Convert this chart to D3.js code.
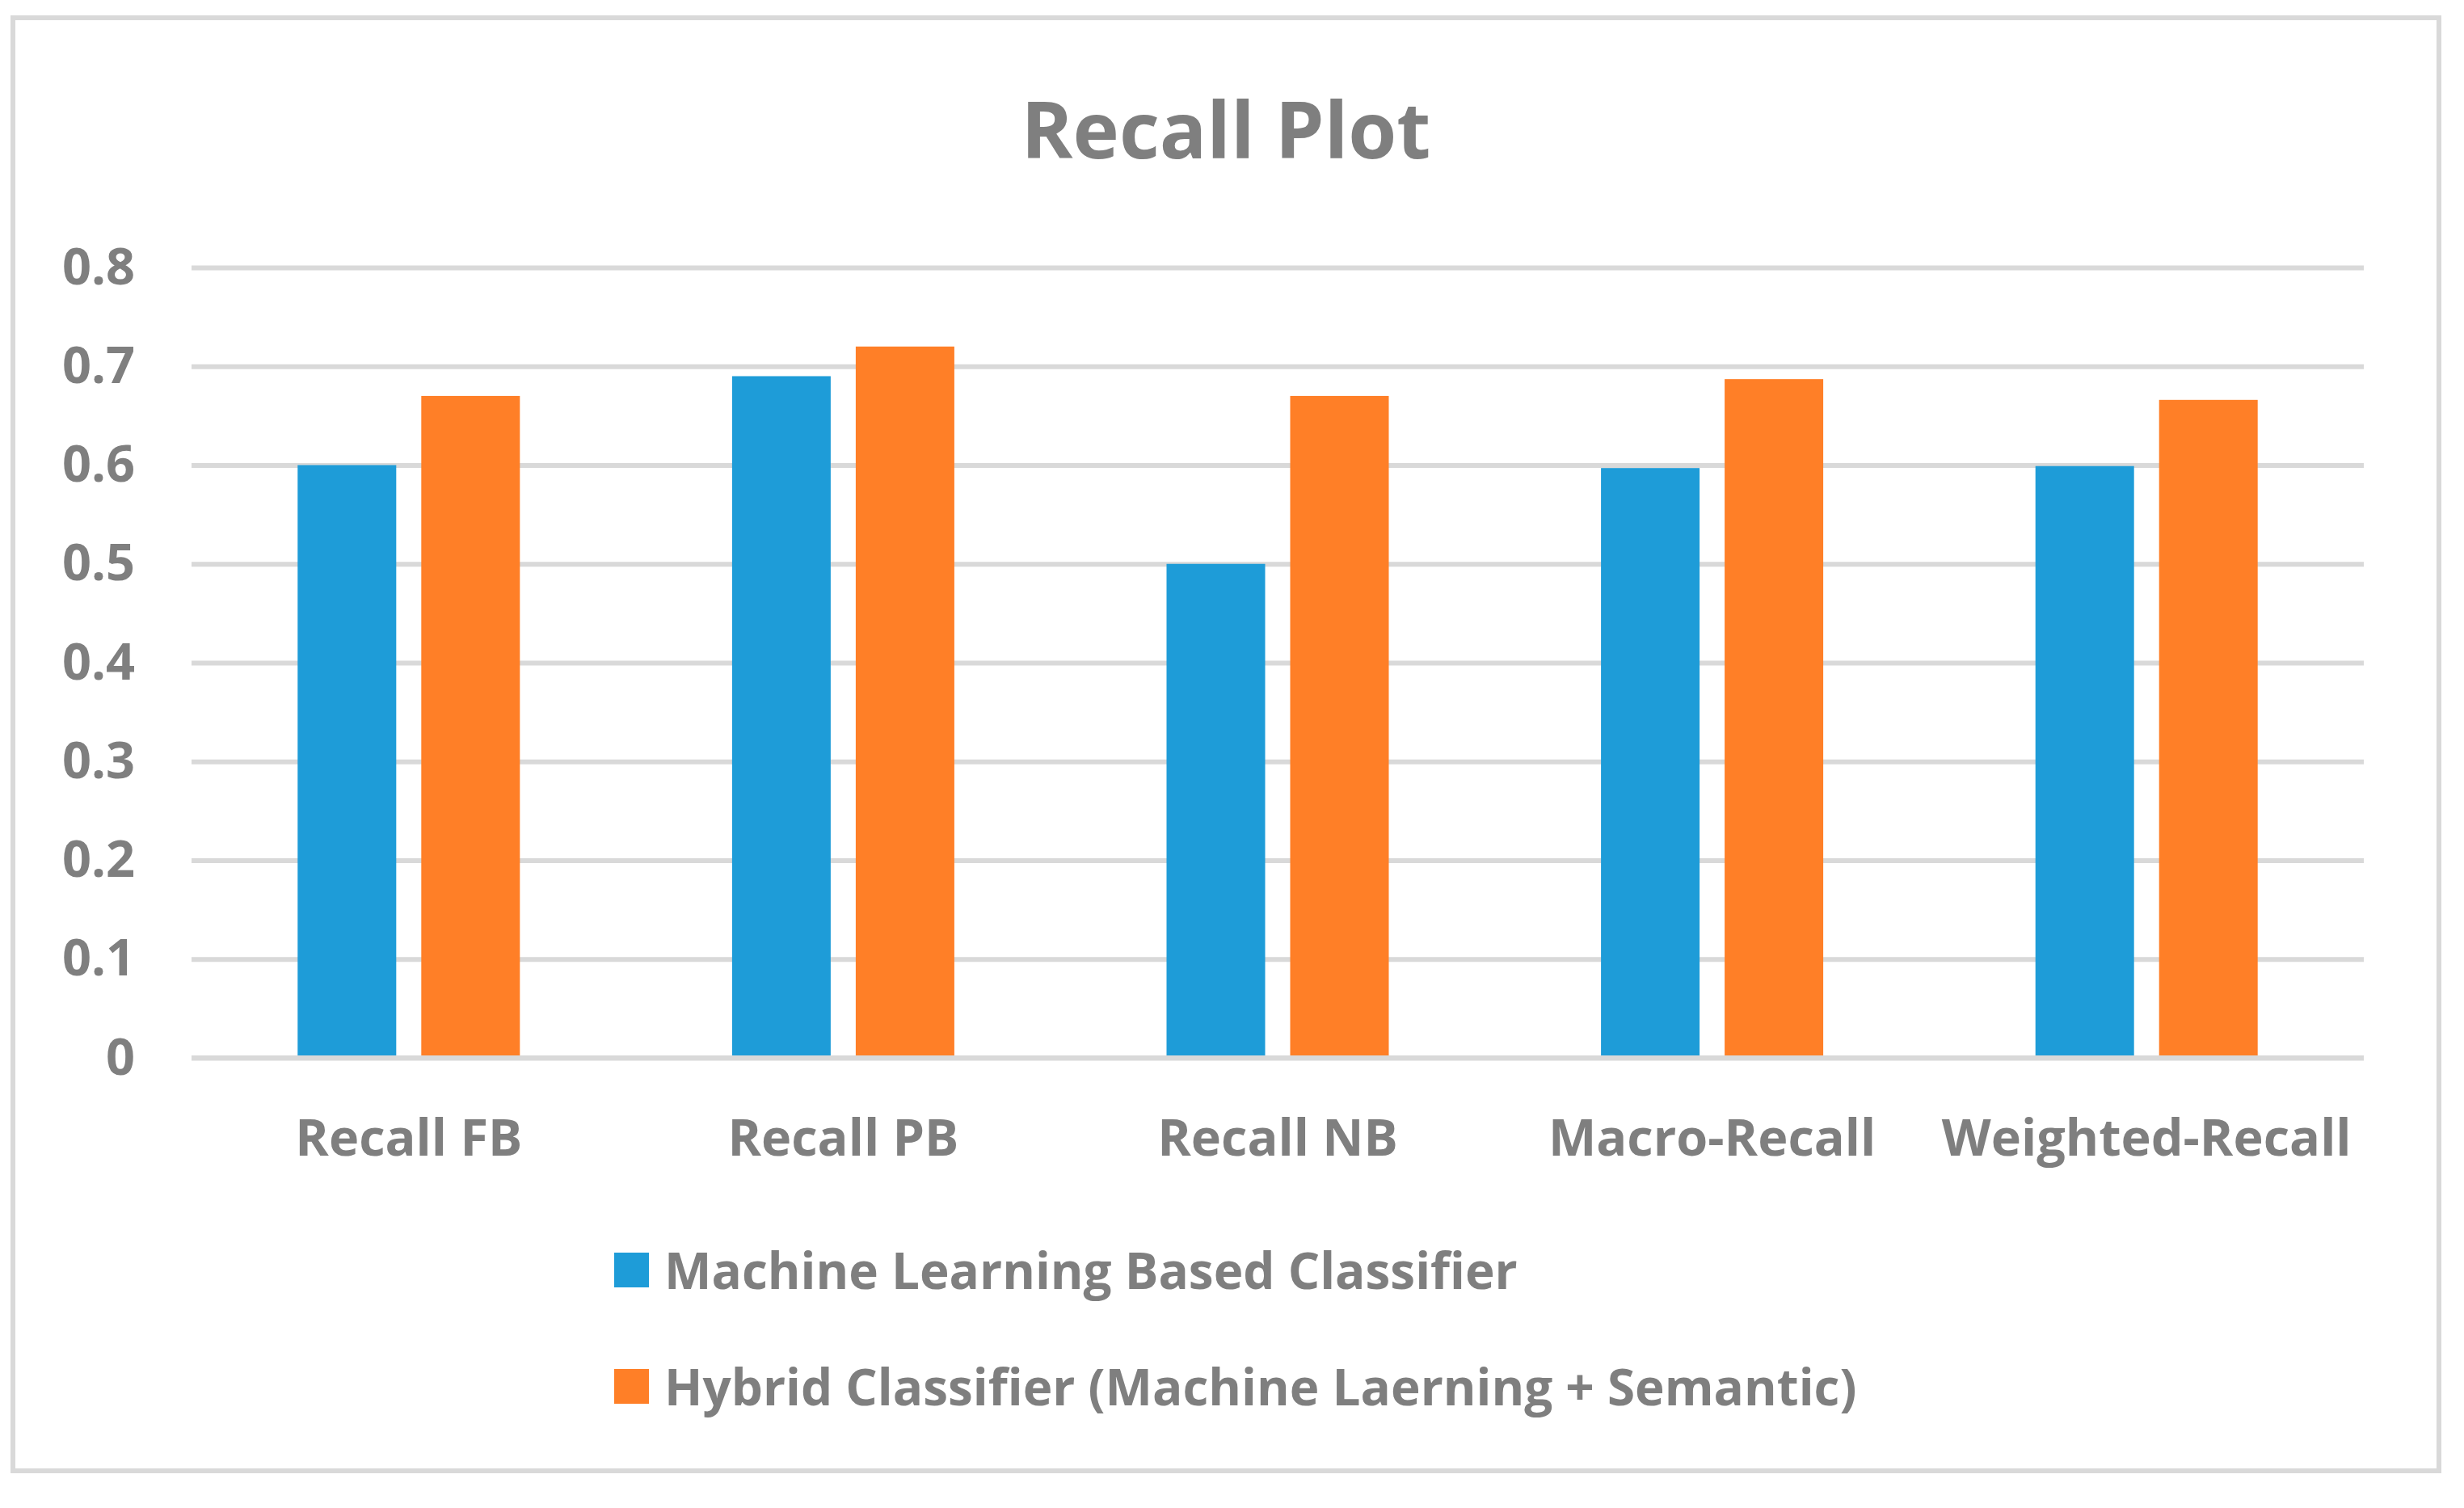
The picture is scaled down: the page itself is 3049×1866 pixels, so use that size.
<!DOCTYPE html>
<html>
<head>
<meta charset="utf-8">
<script src="https://cdn.jsdelivr.net/npm/d3@7/dist/d3.min.js"></script>
<style>
  html, body { margin: 0; padding: 0; background: #ffffff; }
  svg { display: block; }
</style>
</head>
<body>
<script>
// ---- data ----
const categories = ["Recall FB", "Recall PB", "Recall NB", "Macro-Recall", "Weighted-Recall"];
const seriesNames = ["Machine Learning Based Classifier", "Hybrid Classifier (Machine Laerning + Semantic)"];
const mlValues = [0.60, 0.69, 0.50, 0.597, 0.599];
const hybridValues = [0.67, 0.72, 0.67, 0.687, 0.666];
const yTicks = [0, 0.1, 0.2, 0.3, 0.4, 0.5, 0.6, 0.7, 0.8];
const yTickLabels = ["0", "0.1", "0.2", "0.3", "0.4", "0.5", "0.6", "0.7", "0.8"];
const titleText = "Recall Plot";

// ---- layout ----
const W = 3049, H = 1866;
const colors = ["#1e9cd8", "#ff7f27"];
const gridColor = "#d9d9d9";
const textColor = "#7f7f7f";
const font = "'Open Sans', 'Noto Sans', sans-serif";

const svg = d3.select("body").append("svg").attr("width", W).attr("height", H);
svg.append("rect").attr("width", W).attr("height", H).attr("fill", "#ffffff");

// frame
svg.append("rect")
  .attr("x", 16).attr("y", 22).attr("width", 3002).attr("height", 1798)
  .attr("fill", "none").attr("stroke", gridColor).attr("stroke-width", 6);

// title
svg.append("text")
  .attr("x", 1517).attr("y", 196)
  .attr("text-anchor", "middle")
  .attr("font-family", font).attr("font-weight", 700).attr("font-size", 97)
  .attr("fill", textColor)
  .text(titleText);

const plotLeft = 237, plotRight = 2925;
const x0 = d3.scaleBand().domain(categories).range([plotLeft, plotRight]).paddingInner(0).paddingOuter(0);
const y = d3.scaleLinear().domain([0, 0.8]).range([1309, 331]);

// y axis with gridlines
const yAxis = d3.axisLeft(y)
  .tickValues(yTicks)
  .tickFormat((d, i) => yTickLabels[i])
  .tickSize(-(plotRight - plotLeft))
  .tickPadding(70);
const gy = svg.append("g").attr("transform", `translate(${plotLeft},0)`).call(yAxis);
gy.select(".domain").remove();
gy.selectAll(".tick line").attr("stroke", gridColor).attr("stroke-width", 6);
gy.selectAll(".tick text")
  .attr("font-family", font).attr("font-weight", 700).attr("font-size", 63)
  .attr("fill", textColor);

// bars
const barW = 122, barGap = 31;
const x1 = d3.scaleBand().domain([0, 1]).range([0, 2 * barW + barGap]).paddingInner(barGap / (barW + barGap)).paddingOuter(0);
const groupOffset = (x0.bandwidth() - (2 * barW + barGap)) / 2;
const seriesVals = [mlValues, hybridValues];

const groups = svg.append("g").selectAll("g")
  .data(categories)
  .join("g")
  .attr("transform", d => `translate(${x0(d) + groupOffset},0)`);

groups.selectAll("rect")
  .data((d, i) => seriesVals.map((s, k) => ({ k, v: s[i] })))
  .join("rect")
  .attr("x", d => x1(d.k))
  .attr("width", x1.bandwidth())
  .attr("y", d => y(d.v))
  .attr("height", d => y(0) - y(d.v))
  .attr("fill", d => colors[d.k]);

// baseline on top
svg.append("line")
  .attr("x1", plotLeft).attr("x2", plotRight)
  .attr("y1", y(0)).attr("y2", y(0))
  .attr("stroke", gridColor).attr("stroke-width", 6);

// x labels
const xAxis = d3.axisBottom(x0).tickSize(0).tickPadding(0);
const gx = svg.append("g").attr("transform", `translate(0,${y(0)})`).call(xAxis);
gx.select(".domain").remove();
gx.selectAll(".tick text")
  .attr("dy", null)
  .attr("y", 121)
  .attr("font-family", font).attr("font-weight", 700).attr("font-size", 63)
  .attr("fill", textColor);

// legend
const legend = svg.append("g");
const legendRows = [1550, 1694];
seriesNames.forEach((name, k) => {
  legend.append("rect")
    .attr("x", 760).attr("y", legendRows[k])
    .attr("width", 43).attr("height", 43)
    .attr("fill", colors[k]);
  legend.append("text")
    .attr("x", 822).attr("y", legendRows[k] + 45)
    .attr("font-family", font).attr("font-weight", 700).attr("font-size", 62)
    .attr("fill", textColor)
    .text(name);
});
</script>
</body>
</html>
